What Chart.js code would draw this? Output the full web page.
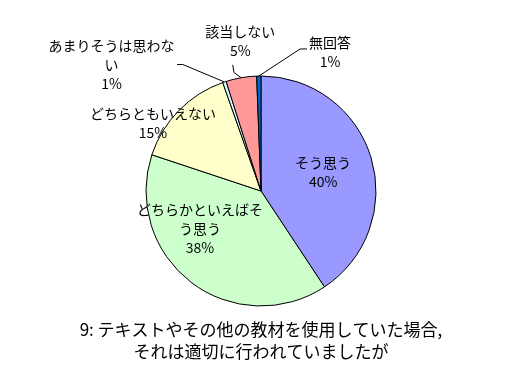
<!DOCTYPE html>
<html>
<head>
<meta charset="utf-8">
<script src="https://cdn.jsdelivr.net/npm/chart.js@4/dist/chart.umd.min.js"></script>
<style>
  html, body { margin: 0; padding: 0; background: #fff; }
  #wrap { width: 520px; height: 380px; }
</style>
</head>
<body>
<div id="wrap"><canvas id="myChart" width="520" height="380"></canvas></div>
<script>
const categories = ["そう思う", "どちらかといえばそう思う", "どちらともいえない", "あまりそうは思わない", "該当しない", "無回答"];
const shares = [40.7, 39.4, 14.5, 0.5, 4.3, 0.6];
// percentages as printed on the labels
const percentLabels = ["40%", "38%", "15%", "1%", "5%", "1%"];
const sliceColors = ["#9999ff", "#ccffcc", "#ffffcc", "#ccffff", "#ff9999", "#0066cc"];
const labelLines = [
  ["そう思う"],
  ["どちらかといえばそ", "う思う"],
  ["どちらともいえない"],
  ["あまりそうは思わな", "い"],
  ["該当しない"],
  ["無回答"],
];
const titleLines = ["9: テキストやその他の教材を使用していた場合,", "それは適切に行われていましたが"];

// label block centres, in units of the pie radius from its centre
const labelPos = [[0.54, -0.165], [-0.53, 0.33], [-0.94, -0.59], [-1.30, -1.10], [-0.18, -1.30], [0.60, -1.21]];
// leader lines: start point, elbow point (radius units), then to the slice edge
const leaders = {
  3: [[-0.73, -1.10], [-0.68, -1.10]],
  4: [[-0.246, -1.096], [-0.235, -1.03]],
  5: [[0.40, -1.235], [0.34, -1.235]],
};

const sliceLabels = {
  id: "sliceLabels",
  afterDatasetsDraw(chart) {
    const ctx = chart.ctx;
    const arcs = chart.getDatasetMeta(0).data;
    ctx.save();
    ctx.font = '14px "Noto Sans CJK JP"';
    ctx.fillStyle = "#000";
    ctx.textAlign = "center";
    ctx.textBaseline = "middle";
    arcs.forEach((arc, i) => {
      const { x, y, outerRadius: r, startAngle, endAngle } = arc.getProps(["x", "y", "outerRadius", "startAngle", "endAngle"], true);
      const lines = labelLines[i].concat([percentLabels[i]]);
      const cx = x + labelPos[i][0] * r;
      const cy = y + labelPos[i][1] * r;
      const lh = 19;
      lines.forEach((t, k) => {
        ctx.fillText(t, cx, cy + (k - (lines.length - 1) / 2) * lh);
      });
      if (leaders[i]) {
        const mid = (startAngle + endAngle) / 2;
        ctx.beginPath();
        ctx.strokeStyle = "#000";
        ctx.lineWidth = 1;
        ctx.moveTo(x + leaders[i][0][0] * r, y + leaders[i][0][1] * r);
        ctx.lineTo(x + leaders[i][1][0] * r, y + leaders[i][1][1] * r);
        ctx.lineTo(x + Math.cos(mid) * r, y + Math.sin(mid) * r);
        ctx.stroke();
      }
    });
    ctx.restore();
  },
};

new Chart(document.getElementById("myChart"), {
  type: "pie",
  data: {
    labels: categories,
    datasets: [
      {
        data: shares,
        backgroundColor: sliceColors,
        borderColor: "#000",
        borderWidth: 1,
        hoverOffset: 0,
      },
    ],
  },
  options: {
    responsive: false,
    animation: false,
    radius: 115,
    layout: { padding: { top: 76, left: 31, right: 29, bottom: 0 } },
    plugins: {
      legend: { display: false },
      tooltip: { enabled: false },
      title: {
        display: true,
        position: "bottom",
        text: titleLines,
        color: "#000",
        font: { family: '"Noto Sans CJK JP"', size: 17, weight: "normal", lineHeight: "22px" },
        padding: { top: 13, bottom: 17 },
      },
    },
  },
  plugins: [sliceLabels],
});
</script>
</body>
</html>
